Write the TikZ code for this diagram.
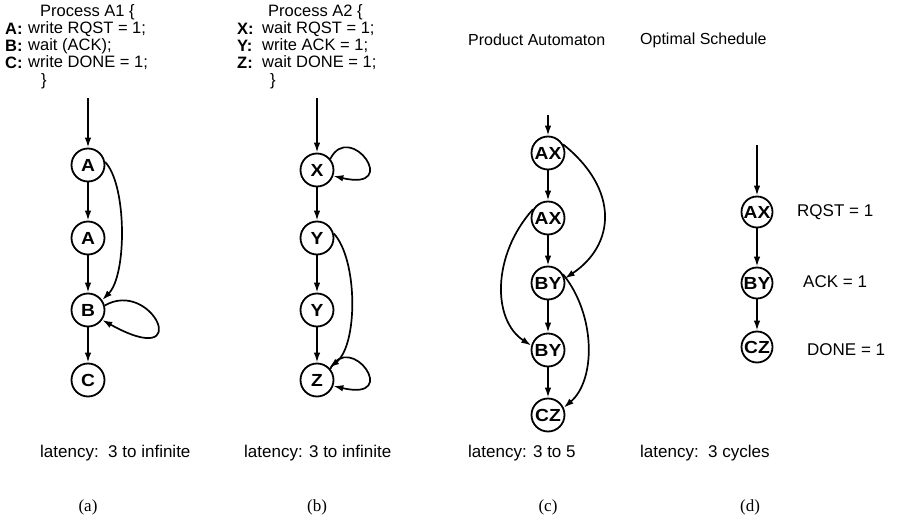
\documentclass[tikz,border=0pt]{standalone}
\usepackage{fontspec}
\setmainfont{Liberation Sans}
\newfontfamily\capserif{Liberation Serif}
\usetikzlibrary{arrows.meta}
\newcommand\wide[1]{\scalebox{1.1}[1]{#1}}
\begin{document}
\begin{tikzpicture}[x=1pt,y=-1pt,
  txt/.style={inner sep=0pt, anchor=west, font=\fontsize{16}{16}\selectfont},
  code/.style={inner sep=0pt, anchor=west, font=\fontsize{16.5}{16.5}\selectfont},
  lbl/.style={inner sep=0pt, anchor=west, font=\fontsize{16.5}{16.5}\selectfont\bfseries},
  lat/.style={inner sep=0pt, anchor=west, font=\fontsize{17}{17}\selectfont},
  st/.style={circle, draw, line width=1.8pt, minimum size=33pt, inner sep=0pt,
             font=\fontsize{17.5}{17.5}\selectfont\bfseries},
  sst/.style={st, minimum size=31pt},
  arr/.style={line width=1.7pt, -{Latex[length=10pt,width=6.5pt]}},
  captext/.style={inner sep=0pt, font=\capserif\fontsize{17}{17}\selectfont}
]
\useasboundingbox (0,0) rectangle (898,522);

% ---------- (a) process A1 ----------
\node[code] (aT)  at (40,12) {Process A1 \{};
\node[lbl]  (aLA) at (5,29)  {A:};
\node[code] (aL1) at (28,29) {write RQST = 1;};
\node[lbl]  (aLB) at (5,46)  {B:};
\node[code] (aL2) at (28,46) {wait (ACK);};
\node[lbl]  (aLC) at (5,63)  {C:};
\node[code] (aL3) at (28,63) {write DONE = 1;};
\node[code] (aE)  at (41,81) {\}};

\coordinate (aIn) at (88,98);
\node[st] (aA1) at (88,165) {\wide{A}};
\node[st] (aA2) at (88,238) {\wide{A}};
\node[st] (aB)  at (88,310) {\wide{B}};
\node[st] (aC)  at (88,380) {\wide{C}};
\draw[arr] (aIn) -- (aA1);
\draw[arr] (aA1) -- (aA2);
\draw[arr] (aA2) -- (aB);
\draw[arr] (aB) -- (aC);
\draw[arr] (aA1.10) .. controls (127,185) and (127,275) .. (aB.35);
\draw[arr] (aB.15) .. controls (152,278) and (196,372) .. (aB.-35);

\node[lat] (aLat) at (40,453) {latency:\ \ 3 to infinite};
\node[captext] (aCap) at (88,507) {(a)};

% ---------- (b) process A2 ----------
\node[code] (bT)  at (268,12) {Process A2 \{};
\node[lbl]  (bLX) at (237,29) {X:};
\node[code] (bL1) at (262,29) {wait RQST = 1;};
\node[lbl]  (bLY) at (237,46) {Y:};
\node[code] (bL2) at (262,46) {write ACK = 1;};
\node[lbl]  (bLZ) at (237,63) {Z:};
\node[code] (bL3) at (262,63) {wait DONE = 1;};
\node[code] (bE)  at (270,81) {\}};

\coordinate (bIn) at (317,98);
\node[st] (bX)  at (317,170) {\wide{X}};
\node[st] (bY1) at (317,238) {\wide{Y}};
\node[st] (bY2) at (317,310) {\wide{Y}};
\node[st] (bZ)  at (317,380) {\wide{Z}};
\draw[arr] (bIn) -- (bX);
\draw[arr] (bX) -- (bY1);
\draw[arr] (bY1) -- (bY2);
\draw[arr] (bY2) -- (bZ);
\draw[arr] (bX.40) .. controls (350,120) and (402,192) .. (bX.-20);
\draw[arr] (bZ.40) .. controls (350,330) and (402,402) .. (bZ.-20);
\draw[arr] (bY1.15) .. controls (358,260) and (358,345) .. (bZ.45);

\node[lat] (bLat) at (244,453) {latency: 3 to infinite};
\node[captext] (bCap) at (317,507) {(b)};

% ---------- (c) product automaton ----------
\node[txt] (cT) at (468,40) {Product Automaton};
\coordinate (cIn) at (548,115);
\node[st] (cAX1) at (548,153) {\wide{AX}};
\node[st] (cAX2) at (548,218) {\wide{AX}};
\node[st] (cBY1) at (548,283) {\wide{BY}};
\node[st] (cBY2) at (548,350) {\wide{BY}};
\node[st] (cCZ)  at (548,415) {\wide{CZ}};
\draw[arr] (cIn) -- (cAX1);
\draw[arr] (cAX1) -- (cAX2);
\draw[arr] (cAX2) -- (cBY1);
\draw[arr] (cBY1) -- (cBY2);
\draw[arr] (cBY2) -- (cCZ);
\draw[arr] (cAX1.30) .. controls (620,190) and (615,245) .. (cBY1.15);
\draw[arr] (cAX2.150) .. controls (492,255) and (492,320) .. (cBY2.165);
\draw[arr] (cBY1.30) .. controls (596,315) and (596,380) .. (cCZ.25);

\node[lat] (cLat) at (468,453) {latency: 3 to 5};
\node[captext] (cCap) at (548,507) {(c)};

% ---------- (d) optimal schedule ----------
\node[txt] (dT) at (640,40) {Optimal Schedule};
\coordinate (dIn) at (757,145);
\node[sst] (dAX) at (757,212) {\wide{AX}};
\node[sst] (dBY) at (757,283) {\wide{BY}};
\node[sst] (dCZ) at (757,347) {\wide{CZ}};
\draw[arr] (dIn) -- (dAX);
\draw[arr] (dAX) -- (dBY);
\draw[arr] (dBY) -- (dCZ);
\node[lat] (dR1) at (797,212) {RQST = 1};
\node[lat] (dR2) at (803,282) {ACK = 1};
\node[lat] (dR3) at (807,350) {DONE = 1};

\node[lat] (dLat) at (640,453) {latency:\ \ 3 cycles};
\node[captext] (dCap) at (750,507) {(d)};
\end{tikzpicture}
\end{document}
